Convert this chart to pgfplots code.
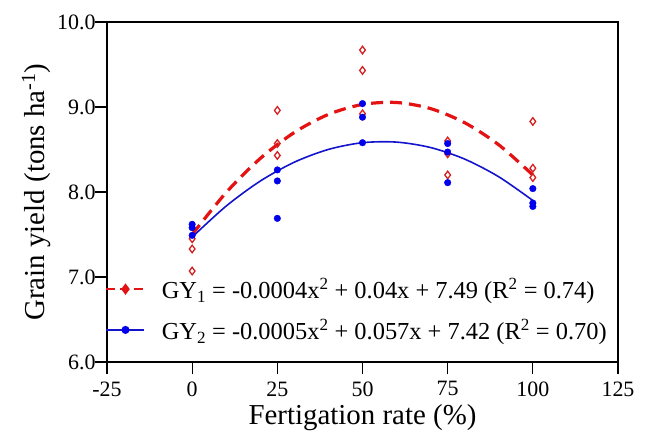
\documentclass[border=0pt]{standalone}
\usepackage{pgfplots}
\pgfplotsset{compat=1.18}
\usepackage{fontspec}
\setmainfont{Liberation Serif}

\definecolor{fitred}{RGB}{228,18,18}
\definecolor{ptred}{RGB}{212,32,32}
\definecolor{fitblue}{RGB}{20,20,205}
\definecolor{ptblue}{RGB}{0,0,235}

\begin{document}
\begin{tikzpicture}
\begin{axis}[
  scale only axis, width=511bp, height=340bp,
  xmin=-25, xmax=125, ymin=6, ymax=10,
  xtick={-25,0,25,50,75,100,125},
  xticklabels={-25,0,25,50,75,100,125},
  ytick={6,7,8,9,10},
  yticklabels={6.0,7.0,8.0,9.0,10.0},
  tick label style={font=\fontsize{22}{24}\selectfont},
  xticklabel style={yshift=-4bp},
  yticklabel style={xshift=4bp},
  label style={font=\fontsize{29}{31}\selectfont},
  xlabel={Fertigation rate (\%)},
  xlabel style={yshift=-1bp},
  ylabel={Grain yield (tons ha\textsuperscript{-1})},
  tick pos=left, tick align=outside, major tick length=12bp,
  axis line style={line width=1.2pt},
  every tick/.style={black, line width=1.2pt},
  legend cell align=left,
  legend style={at={(0,0)}, anchor=south west, xshift=-2bp, yshift=19bp,
    draw=none, fill=none, inner sep=0pt, row sep=15bp,
    font=\fontsize{24.5}{26}\selectfont,
    /tikz/every odd column/.append style={column sep=14bp}},
  legend image code/.code={
    \draw[mark repeat=2, mark phase=2, #1]
      plot coordinates {(0bp,0bp) (19bp,0bp) (38bp,0bp)};},
]
% fitted quadratic curves
\addplot[fitred, line width=3.2bp, dash pattern=on 12bp off 7bp, smooth, forget plot]
  coordinates {(0,7.50) (10,7.995) (20,8.395) (30,8.701) (40,8.913) (50,9.030)
               (60,9.053) (70,8.981) (80,8.815) (90,8.555) (100,8.200)};
\addplot[fitblue, line width=1.6bp, smooth, forget plot]
  coordinates {(0,7.47) (10,7.835) (20,8.129) (30,8.351) (40,8.501) (50,8.580)
               (60,8.587) (70,8.523) (80,8.387) (90,8.179) (100,7.900)};
% observed yields
\addplot[only marks, mark=diamond, mark size=3.8bp, ptred, line width=1.3bp, forget plot]
  coordinates {(0,7.07) (0,7.33) (0,7.45)
               (25,8.96) (25,8.57) (25,8.43)
               (50,9.67) (50,9.43) (50,8.92)
               (75,8.60) (75,8.45) (75,8.20)
               (100,8.83) (100,8.28) (100,8.17)};
\addplot[only marks, mark=*, mark size=3.3bp, ptblue, forget plot]
  coordinates {(0,7.62) (0,7.58) (0,7.49)
               (25,8.26) (25,8.13) (25,7.69)
               (50,9.04) (50,8.88) (50,8.58)
               (75,8.57) (75,8.47) (75,8.11)
               (100,8.04) (100,7.87) (100,7.83)};
% legend
\addlegendimage{fitred, line width=2.6bp, dash pattern=on 9bp off 5bp, mark=diamond*, mark size=3.6bp, mark options={solid}}
\addlegendentry{GY\textsubscript{1} = -0.0004x\textsuperscript{2} + 0.04x + 7.49 (R\textsuperscript{2} = 0.74)}
\addlegendimage{fitblue, line width=1.6bp, mark=*, mark size=3.2bp, mark options={ptblue}}
\addlegendentry{GY\textsubscript{2} = -0.0005x\textsuperscript{2} + 0.057x + 7.42 (R\textsuperscript{2} = 0.70)}
\end{axis}
\pgfresetboundingbox
\path (-107bp,-76bp) rectangle (541bp,362bp);
\end{tikzpicture}
\end{document}
